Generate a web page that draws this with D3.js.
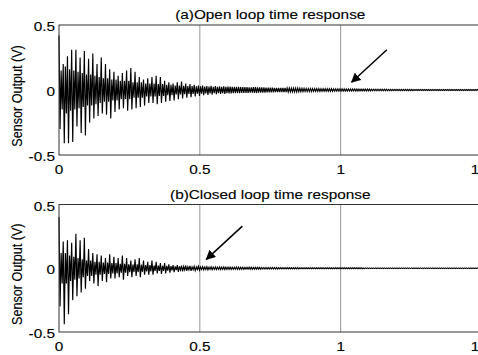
<!DOCTYPE html>
<html>
<head>
<meta charset="utf-8">
<script src="https://cdn.jsdelivr.net/npm/d3@7"></script>
<style>
  body { margin: 0; background: #fff; }
  svg { display: block; }
  text { font-family: "Liberation Sans", Arial, sans-serif; fill: #000; stroke: #000; stroke-width: 0.12px; }
</style>
</head>
<body>
<div id="chart"></div>
<script>
// one spike cycle = 0.015 s ; values in volts
const cycle = 0.015;
const xTicks = [0, 0.5, 1, 1.5];
const yTicks = [0.5, 0, -0.5];

// (a) open loop : spike tops, spike bottoms, dense core amplitude (first 40 cycles)
const openUp = [.42,.20,.26,.31,.31,.25,.30,.24,.28,.20, .25,.20,.16,.14,.11,.13,.15,.17,.14,.10,
  .08,.09,.10,.11,.10,.07,.06,.05,.06,.065, .05,.045,.04,.035,.035,.03,.032,.03,.028,.028];
const openDown = [-.30,-.41,-.41,-.40,-.28,-.33,-.35,-.25,-.22,-.20, -.18,-.19,-.22,-.17,-.15,-.14,-.16,-.15,-.14,-.13,
  -.12,-.10,-.10,-.11,-.10,-.09,-.085,-.08,-.07,-.065, -.06,-.055,-.05,-.045,-.04,-.038,-.035,-.033,-.03,-.03];
const openCore = [.15,.18,.16,.15,.14,.13,.12,.12,.11,.10, .09,.09,.08,.08,.07,.07,.07,.06,.06,.06,
  .05,.05,.05,.045,.045,.04,.04,.035,.035,.032, .03,.03,.028,.028,.026,.026,.025,.025,.024,.024];
// small residual ripple after 0.6 s (one amplitude per cycle)
const openTail = [.026,.024,.025,.023,.023,.021,.022,.02, .02,.019,.018,.017,.016,.016,.015,.014,
  .014,.013,.012,.012,.011,.011,.01,.01, .01,.009,.009,.009,.008,.008,.008,.007,
  .007,.007,.006,.006,.006,.006,.005,.005, .005,.005,.005,.005,.004,.004,.004,.004,
  .004,.004,.004,.004,.004,.004,.004,.004, .004,.004,.004,.004];

// (b) closed loop
const closedUp = [.40,.21,.22,.20,.27,.22,.24,.15,.12,.11, .10,.08,.11,.09,.08,.10,.08,.06,.07,.08,
  .06,.05,.06,.05,.04,.04,.03,.025,.025,.02, .02,.018,.015,.015,.012,.012,.011,.01,.01,.01];
const closedDown = [-.30,-.44,-.36,-.25,-.22,-.19,-.16,-.10,-.12,-.14, -.10,-.11,-.08,-.08,-.07,-.09,-.06,-.07,-.06,-.07,
  -.05,-.05,-.05,-.04,-.045,-.04,-.035,-.03,-.028,-.025, -.02,-.02,-.018,-.015,-.012,-.012,-.011,-.01,-.01,-.01];
const closedCore = [.12,.12,.10,.09,.08,.07,.06,.06,.05,.05, .045,.045,.04,.04,.035,.035,.03,.03,.03,.028,
  .025,.025,.022,.02,.02,.018,.016,.015,.014,.013, .012,.011,.01,.01,.01,.009,.009,.009,.009,.009];
const closedTail = [.009,.008,.009,.008,.007,.008,.007,.007, .006,.006,.006,.006,.005,.005,.005,.005,
  .005,.004,.004,.004,.004,.004,.004,.004, .004,.004,.004,.004,.004,.004,.004,.004,
  .003,.003,.003,.003,.003,.003,.003,.003, .003,.003,.003,.003,.003,.003,.003,.003,
  .003,.003,.003,.003,.003,.003,.003,.003, .003,.003,.003,.003];

const panels = [
  { title: '(a)Open loop time response', up: openUp, down: openDown, core: openCore, tail: openTail,
    top: 25, bottom: 155, arrow: { from: [1.164, 0.31], to: [1.039, 0.06] } },
  { title: '(b)Closed loop time response', up: closedUp, down: closedDown, core: closedCore, tail: closedTail,
    top: 204.5, bottom: 332, arrow: { from: [0.651, 0.33], to: [0.523, 0.07] } }
];

const W = 478, H = 355;
const left = 59, right = 481.5;
const stretch = 1.2; // the source figure is stretched sideways

const svg = d3.select('#chart').append('svg').attr('width', W).attr('height', H);
svg.append('rect').attr('width', W).attr('height', H).attr('fill', '#fff');

svg.append('defs').append('marker')
  .attr('id', 'head').attr('viewBox', '0 0 10 10')
  .attr('refX', 9).attr('refY', 5)
  .attr('markerWidth', 6.5).attr('markerHeight', 6.5)
  .attr('markerUnits', 'strokeWidth')
  .attr('orient', 'auto')
  .append('path').attr('d', 'M0,0L10,5L0,10z').attr('fill', '#000');

const x = d3.scaleLinear().domain([0, 1.5]).range([left, right]);

function buildPoints(p) {
  const pts = [];
  p.up.forEach((u, i) => {
    const t0 = i * cycle;
    pts.push([t0, u], [t0 + cycle / 4, p.down[i]], [t0 + cycle / 2, p.core[i]], [t0 + 3 * cycle / 4, -p.core[i]]);
  });
  const n = p.up.length;
  p.tail.forEach((a, j) => {
    const t0 = (n + j) * cycle;
    pts.push([t0, a], [t0 + cycle / 4, -a], [t0 + cycle / 2, a], [t0 + 3 * cycle / 4, -a]);
  });
  pts.push([1.5, 0]);
  return pts;
}

function stretchedText(g, tx, ty, str, anchor, size, rot) {
  g.append('text')
    .attr('transform', 'translate(' + tx + ',' + ty + ') scale(' + stretch + ',1)' + (rot ? ' rotate(' + rot + ')' : ''))
    .attr('text-anchor', anchor)
    .style('font-size', size + 'px')
    .text(str);
}

panels.forEach(p => {
  const y = d3.scaleLinear().domain([-0.5, 0.5]).range([p.bottom, p.top]);
  const g = svg.append('g');

  // grid
  [0.5, 1].forEach(t => {
    g.append('line').attr('x1', x(t)).attr('x2', x(t)).attr('y1', p.top).attr('y2', p.bottom)
      .attr('stroke', '#8a8a8a').attr('stroke-width', 0.9);
  });

  // signal
  const line = d3.line().x(d => x(d[0])).y(d => y(d[1]));
  g.append('path').datum(buildPoints(p)).attr('d', line)
    .attr('fill', 'none').attr('stroke', '#000').attr('stroke-width', 1.15).attr('stroke-linejoin', 'miter');

  // frame
  g.append('rect').attr('x', left).attr('y', p.top).attr('width', right - left).attr('height', p.bottom - p.top)
    .attr('fill', 'none').attr('stroke', '#333').attr('stroke-width', 1);

  // ticks labels
  xTicks.forEach(t => stretchedText(g, x(t), p.bottom + 19, d3.format('')(t), 'middle', 12.8));
  yTicks.forEach(v => stretchedText(g, left - 4, y(v) + 6, d3.format('')(v).replace('−', '-'), 'end', 12.8));

  // titles
  stretchedText(g, (left + right) / 2, p.top - 6, p.title, 'middle', 12.8);
  stretchedText(g, 22, (p.top + p.bottom) / 2 + 6, 'Sensor Output (V)', 'middle', 12.6, -90);

  // arrow
  g.append('line')
    .attr('x1', x(p.arrow.from[0])).attr('y1', y(p.arrow.from[1]))
    .attr('x2', x(p.arrow.to[0])).attr('y2', y(p.arrow.to[1]))
    .attr('stroke', '#000').attr('stroke-width', 1.5)
    .attr('marker-end', 'url(#head)');
});
</script>
</body>
</html>
